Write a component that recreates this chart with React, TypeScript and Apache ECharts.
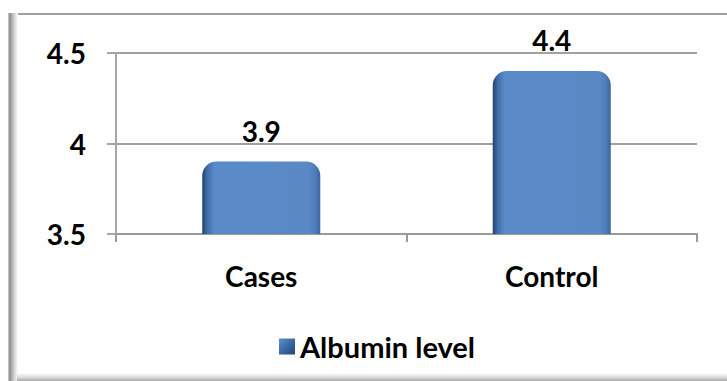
import React, { useEffect, useRef } from "react";
import * as echarts from "echarts";

const categories = ["Cases", "Control"];
const seriesName = "Albumin level";
const values = [3.9, 4.4];
const yMin = 3.5;
const yMax = 4.5;
const yInterval = 0.5;

const FONT = "Lato, 'Noto Sans', sans-serif";

export default function App() {
  const ref = useRef<HTMLDivElement>(null);
  useEffect(() => {
    if (!ref.current) return;
    const chart = echarts.init(ref.current, undefined, { renderer: "svg" });
    const barGrad = new echarts.graphic.LinearGradient(0, 0, 1, 0, [
      { offset: 0, color: "#23416b" },
      { offset: 0.04, color: "#3f6ca6" },
      { offset: 0.1, color: "#5a8ac8" },
      { offset: 0.9, color: "#5a89c6" },
      { offset: 0.96, color: "#4d7cb8" },
      { offset: 1, color: "#3a649c" },
    ]);
    const legendGrad = new echarts.graphic.LinearGradient(0, 0, 1, 1, [
      { offset: 0, color: "#5d8fd0" },
      { offset: 0.5, color: "#3b6aa6" },
      { offset: 1, color: "#23446f" },
    ]);
    chart.setOption({
      animation: false,
      backgroundColor: "#ffffff",
      textStyle: { fontFamily: FONT },
      grid: { left: 116, right: 30, top: 53, bottom: 147, containLabel: false },
      legend: {
        data: [{ name: seriesName, itemStyle: { color: legendGrad } }],
        left: 274,
        top: 327,
        itemWidth: 16,
        itemHeight: 16,
        itemGap: 10,
        icon: "rect",
        textStyle: { fontFamily: FONT, fontWeight: "bold", fontSize: 29, color: "#000" },
      },
      xAxis: {
        type: "category",
        data: categories,
        axisLine: { show: true, lineStyle: { color: "#9a9a9a", width: 2 } },
        axisTick: { show: true, length: 8, lineStyle: { color: "#9a9a9a", width: 2 } },
        axisLabel: { margin: 28, fontFamily: FONT, fontWeight: "bold", fontSize: 28, color: "#000" },
        splitLine: { show: false },
      },
      yAxis: {
        type: "value",
        min: yMin,
        max: yMax,
        interval: yInterval,
        axisLine: { show: true, lineStyle: { color: "#a6a6a6", width: 2 } },
        axisTick: { show: true, length: 9, lineStyle: { color: "#a6a6a6", width: 2 } },
        axisLabel: { margin: 30, fontFamily: FONT, fontWeight: "bold", fontSize: 28, color: "#000" },
        splitLine: { show: true, lineStyle: { color: "#a0a0a0", width: 2 } },
      },
      series: [
        {
          name: seriesName,
          type: "bar",
          data: values,
          barWidth: 118,
          itemStyle: { color: barGrad, borderRadius: [14, 14, 0, 0] },
          label: {
            show: true,
            position: "top",
            distance: 17,
            fontFamily: FONT,
            fontWeight: "bold",
            fontSize: 28,
            color: "#000",
          },
        },
      ],
      graphic: [
        {
          type: "rect",
          shape: { x: 10, y: 13, width: 717, height: 2 },
          style: { fill: "#a0a0a0" },
          silent: true,
        },
        {
          type: "rect",
          shape: { x: 8, y: 13, width: 10, height: 368 },
          style: {
            fill: new echarts.graphic.LinearGradient(0, 0, 1, 0, [
              { offset: 0, color: "#d0d0d0" },
              { offset: 0.2, color: "#8a8a8a" },
              { offset: 0.4, color: "#b5b5b5" },
              { offset: 1, color: "#ffffff" },
            ]),
          },
          silent: true,
        },
        {
          type: "rect",
          shape: { x: 17, y: 373, width: 710, height: 8 },
          style: {
            fill: new echarts.graphic.LinearGradient(0, 0, 0, 1, [
              { offset: 0, color: "#ffffff" },
              { offset: 0.6, color: "#d6d6d6" },
              { offset: 1, color: "#a8a8a8" },
            ]),
          },
          silent: true,
        },
      ],
    });
    return () => chart.dispose();
  }, []);
  return (
    <div
      ref={ref}
      style={{ position: "absolute", left: 0, top: 0, width: 727, height: 381 }}
    />
  );
}
